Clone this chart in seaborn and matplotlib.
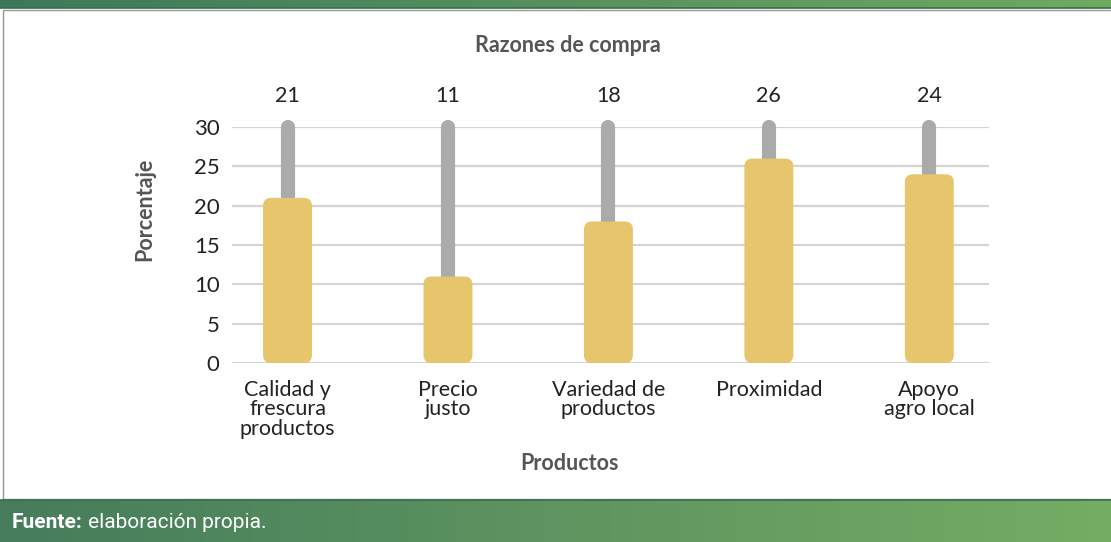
import numpy as np
import pandas as pd
import matplotlib
matplotlib.use("Agg")
import matplotlib.pyplot as plt
import seaborn as sns
from matplotlib.patches import FancyBboxPatch, Rectangle
from matplotlib.colors import LinearSegmentedColormap

# ---- data ----
categories = ["Calidad y\nfrescura\nproductos", "Precio\njusto", "Variedad de\nproductos",
              "Proximidad", "Apoyo\nagro local"]
values = [21, 11, 18, 26, 24]
scale_max = 30
yticks = [0, 5, 10, 15, 20, 25, 30]

title = "Razones de compra"
xlabel = "Productos"
ylabel = "Porcentaje"

sns.set_theme(style="white")
plt.rcParams["font.family"] = ["Lato", "DejaVu Sans"]

W, H = 1111, 542
fig = plt.figure(figsize=(W / 100, H / 100), dpi=100)

# ---- background decorations (bands + frame) ----
bg = fig.add_axes([0, 0, 1, 1], zorder=-10)
bg.axis("off")
grad = np.linspace(0, 1, 256).reshape(1, -1)
cm_top = LinearSegmentedColormap.from_list("t", ["#3d785a", "#6faa61"])
cm_bot = LinearSegmentedColormap.from_list("b", ["#467c5b", "#75ad64"])
bg.imshow(grad, cmap=cm_top, extent=[0, W, 8, 0], aspect="auto")
bg.plot([0, W], [8, 8], color="#3b6b4f", lw=1.2)
bg.imshow(grad, cmap=cm_bot, extent=[0, W, H, 500], aspect="auto")
bg.plot([0, W], [499.5, 499.5], color="#3b6b4f", lw=1.2)
bg.add_patch(Rectangle((2.5, 9.5), W, 489.5, fill=False, ec="#8c9c92", lw=1.0))
bg.set_xlim(0, W)
bg.set_ylim(H, 0)

ft = fig.text(12 / W, 1 - 523 / H, "Fuente:", color="white", fontsize=15,
              fontweight="bold", family=["Roboto", "DejaVu Sans"], va="center", ha="left")
fig.canvas.draw()
ext = ft.get_window_extent()
fig.text((ext.x1 + 5) / W, 1 - 523 / H, "elaboración propia.", color="white", fontsize=15,
         family=["Roboto", "DejaVu Sans"], va="center", ha="left")

# ---- main axes ----
ax = fig.add_axes([232 / W, 1 - 363 / H, (989 - 232) / W, (363 - 127) / H])
df = pd.DataFrame({"cat": categories, "val": values})

xpos = np.arange(len(categories))
# gray background pills
for x in xpos:
    ax.plot([x, x], [1.2, scale_max], color="#aaaaaa", lw=10.2,
            solid_capstyle="round", zorder=2, clip_on=False)

bw = 0.305
sns.barplot(data=df, x="cat", y="val", color="#e7c56c", width=bw, ax=ax,
            saturation=1, zorder=3)

ax.set_xlim(-0.346, 4.372)
ax.set_ylim(0, 30.02)

# rounded replacement of bars
px_x = (989 - 232) / (4.372 + 0.346)
px_y = (363 - 127) / 30.02
asp = px_x / px_y
r = 8 / px_x
for p in list(ax.patches):
    x0, w, h = p.get_x(), p.get_width(), p.get_height()
    fc = p.get_facecolor()
    p.remove()
    ax.add_patch(FancyBboxPatch((x0, 0), w, h,
                                boxstyle=f"round,pad=0,rounding_size={r}",
                                mutation_aspect=asp, fc=fc, ec="none",
                                zorder=3, clip_on=False))

# value labels
for x, v in zip(xpos, values):
    ax.text(x, 33.9, str(v), ha="center", va="center", fontsize=15.5,
            color="#222222", clip_on=False)

ax.set_yticks(yticks)
ax.set_yticklabels([str(t) for t in yticks], fontsize=16, color="#222222")
ax.set_xticks(xpos)
ax.set_xticklabels(categories, fontsize=15.5, color="#222222", linespacing=0.98,
                   va="top")
ax.tick_params(axis="y", length=0, pad=9)
ax.tick_params(axis="x", length=0, pad=12)
ax.yaxis.grid(True, color="#d4d4d4", lw=1.6, zorder=0)
ax.set_axisbelow(True)
for s in ax.spines.values():
    s.set_visible(False)
ax.set_xlabel("")
ax.set_ylabel("")

fig.text(568 / W, 1 - 45 / H, title, ha="center", va="center", fontsize=15.5,
         fontweight="bold", color="#555555")
fig.text(569 / W, 1 - 463 / H, xlabel, ha="center", va="center", fontsize=15.5,
         fontweight="bold", color="#555555")
fig.text(145 / W, 1 - 209 / H, ylabel, ha="center", va="center", fontsize=15.5,
         fontweight="bold", color="#555555", rotation=90)

fig.savefig("out.png", dpi=100)
